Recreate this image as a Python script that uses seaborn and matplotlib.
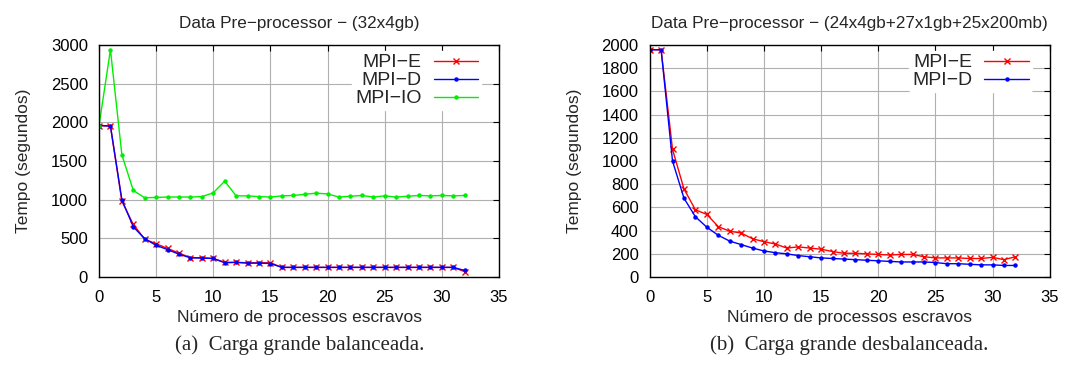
import matplotlib
matplotlib.use("Agg")
import matplotlib.pyplot as plt
import seaborn as sns
import pandas as pd

# dados
procs = list(range(33))

# (a) carga grande balanceada
bal_mpi_e = [1960, 1950, 980, 680, 490, 430, 370, 310, 250, 250, 240, 190, 190, 185, 185, 185,
             125, 125, 125, 125, 125, 125, 125, 125, 125, 125, 125, 125, 125, 125, 125, 125, 70]
bal_mpi_d = [1960, 1955, 1000, 650, 495, 410, 355, 295, 250, 245, 240, 185, 190, 180, 180, 175,
             125, 125, 125, 125, 125, 125, 125, 125, 125, 125, 125, 125, 125, 125, 125, 125, 85]
bal_mpi_io = [1960, 2940, 1580, 1120, 1025, 1030, 1035, 1035, 1035, 1040, 1090, 1240, 1050, 1050,
              1040, 1035, 1050, 1055, 1070, 1085, 1075, 1035, 1045, 1055, 1035, 1050, 1035, 1045,
              1055, 1050, 1055, 1050, 1055]

# (b) carga grande desbalanceada
des_mpi_e = [1960, 1960, 1100, 760, 580, 540, 435, 395, 380, 330, 305, 285, 250, 260, 250, 240,
             220, 205, 205, 200, 195, 190, 195, 195, 175, 165, 165, 165, 160, 160, 170, 150, 175]
des_mpi_d = [1960, 1960, 1000, 680, 520, 430, 360, 310, 280, 250, 225, 210, 200, 185, 175, 165,
             160, 155, 150, 145, 140, 135, 130, 130, 130, 125, 115, 115, 110, 105, 105, 100, 100]

titles = ["Data Pre\u2212processor \u2212 (32x4gb)",
          "Data Pre\u2212processor \u2212 (24x4gb+27x1gb+25x200mb)"]
captions = ["(a)  Carga grande balanceada.", "(b)  Carga grande desbalanceada."]

sns.set_theme(style="white")
plt.rcParams['font.family'] = ['Liberation Sans', 'DejaVu Sans']

fig = plt.figure(figsize=(10.81, 3.79), dpi=100)
ax1 = fig.add_axes([0.0916, 0.269, 0.370, 0.612])
ax2 = fig.add_axes([0.601, 0.269, 0.370, 0.612])

estilo = {
    "MPI\u2212E": dict(color="red", marker="x", markersize=4, mew=1.0),
    "MPI\u2212D": dict(color="blue", marker="o", markersize=3.2, mew=0),
    "MPI\u2212IO": dict(color="#00ee00", marker="o", markersize=3.2, mew=0),
}

series1 = {"MPI\u2212E": bal_mpi_e, "MPI\u2212D": bal_mpi_d, "MPI\u2212IO": bal_mpi_io}
series2 = {"MPI\u2212E": des_mpi_e, "MPI\u2212D": des_mpi_d}

for ax, series in [(ax1, series1), (ax2, series2)]:
    for nome, vals in series.items():
        df = pd.DataFrame({"x": procs, "y": vals})
        st = estilo[nome]
        sns.lineplot(data=df, x="x", y="y", ax=ax, label=nome, color=st["color"],
                     marker=st["marker"], markersize=st["markersize"],
                     markeredgewidth=st["mew"], markeredgecolor=st["color"],
                     linewidth=1.0)

ax1.set_ylim(0, 3000)
ax1.set_yticks(range(0, 3001, 500))
ax2.set_ylim(0, 2000)
ax2.set_yticks(range(0, 2001, 200))

for i, ax in enumerate([ax1, ax2]):
    ax.set_xlim(0, 35)
    ax.set_xticks(range(0, 36, 5))
    ax.grid(True, color="#b0b0b0", linewidth=0.8)
    ax.set_axisbelow(True)
    for s in ax.spines.values():
        s.set_visible(True)
        s.set_color("black")
        s.set_linewidth(1.0)
    ax.tick_params(direction="in", top=True, right=True, length=4, width=0.8,
                   labelsize=12, colors="black")
    ax.tick_params(axis="x", pad=9)
    ax.tick_params(axis="y", pad=8)
    ax.set_title(titles[i], fontsize=12.3, pad=12)
    ax.set_xlabel("Número de processos escravos", fontsize=12.5, labelpad=4)
    ax.set_ylabel("Tempo (segundos)", fontsize=12.5, labelpad=14)
    leg = ax.legend(loc="upper right", markerfirst=False, frameon=True, fontsize=14,
                    handlelength=2.3, handletextpad=0.6, labelspacing=0.02,
                    borderaxespad=0.3, borderpad=0.15, bbox_to_anchor=(0.97, 1.0))
    leg.get_frame().set_facecolor("white")
    leg.get_frame().set_edgecolor("white")
    leg.get_frame().set_alpha(1.0)
    for t in leg.get_texts():
        t.set_ha("right")

fig.text(0.277, 0.09, captions[0], ha="center", va="center", fontsize=15,
         family=["Liberation Serif", "DejaVu Serif"])
fig.text(0.786, 0.09, captions[1], ha="center", va="center", fontsize=15,
         family=["Liberation Serif", "DejaVu Serif"])

fig.savefig("out.png", dpi=100)
